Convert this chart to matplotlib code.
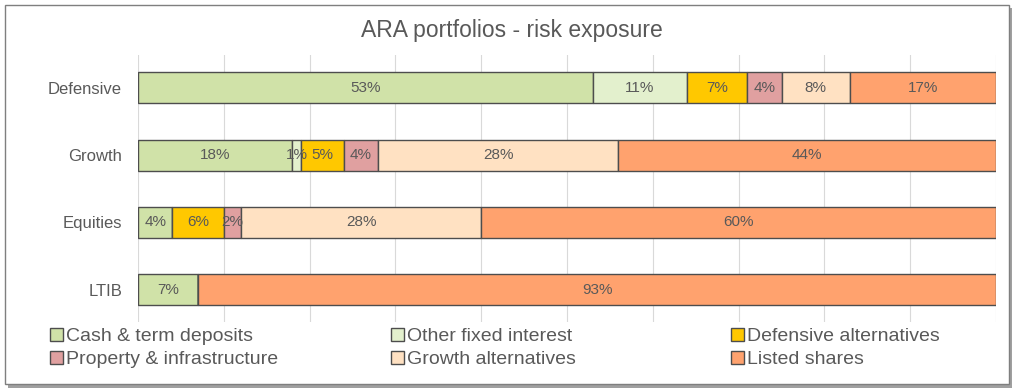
import numpy as np
import matplotlib.pyplot as plt
from matplotlib.patches import Rectangle

portfolios = ['Defensive', 'Growth', 'Equities', 'LTIB']
asset_classes = ['Cash & term deposits', 'Other fixed interest', 'Defensive alternatives',
                 'Property & infrastructure', 'Growth alternatives', 'Listed shares']
cash = [53, 18, 4, 7]
other_fixed = [11, 1, 0, 0]
def_alt = [7, 5, 6, 0]
property_infra = [4, 4, 2, 0]
growth_alt = [8, 28, 28, 0]
listed = [17, 44, 60, 93]
colours = ['#d0e2a8', '#e3f0cd', '#ffc800', '#e0a0a0', '#ffe1c2', '#ffa26e']


def main():
    plt.rcParams['font.family'] = ['Liberation Sans', 'DejaVu Sans']
    fig = plt.figure(figsize=(10.24, 3.9), dpi=100)
    ax = fig.add_axes([138 / 1024, 1 - 322 / 390, 858 / 1024, 267 / 390])

    series = [cash, other_fixed, def_alt, property_infra, growth_alt, listed]
    y = np.arange(len(portfolios))
    left = np.zeros(len(portfolios))
    handles = []
    for name, vals, col in zip(asset_classes, series, colours):
        vals = np.array(vals, dtype=float)
        bars = ax.barh(y, vals, left=left, height=0.46, color=col,
                       edgecolor='#4d4d4d', linewidth=1.0, label=name, zorder=3)
        handles.append(bars)
        for yi, (l, v) in enumerate(zip(left, vals)):
            if v > 0:
                ax.text(l + v / 2, yi, '%d%%' % v, ha='center', va='center',
                        fontsize=11, color='#595959', zorder=4)
        left += vals

    ax.set_xlim(0, 100)
    ax.set_ylim(3.48, -0.49)
    ax.set_xticks(np.arange(0, 101, 10))
    ax.set_xticklabels([])
    ax.set_yticks(y)
    ax.set_yticklabels(portfolios, fontsize=12, color='#595959')
    ax.tick_params(axis='both', length=0)
    ax.tick_params(axis='y', pad=11.5)
    ax.grid(True, axis='x', color='#d9d9d9', linewidth=0.8, zorder=0)
    for s in ax.spines.values():
        s.set_visible(False)

    fig.text(0.5, 1 - 30 / 390, 'ARA portfolios - risk exposure', ha='center', va='center',
             fontsize=16.5, color='#595959')

    # legend filled row by row: three columns placed where the original has them
    col_x = [50, 391, 731]
    for c, x in enumerate(col_x):
        idx = [c, c + 3]
        leg = fig.legend(handles=[handles[i] for i in idx],
                         labels=[asset_classes[i] for i in idx],
                         loc='upper left', bbox_to_anchor=(x / 1024, 1 - 328 / 390),
                         frameon=False, fontsize=14, handlelength=0.65, handleheight=0.65,
                         handletextpad=0.15, labelspacing=0.3, borderpad=0, borderaxespad=0)
        for t in leg.get_texts():
            t.set_color('#595959')

    # outer frame with shadow
    fig.patches.append(Rectangle((8 / 1024, 2 / 390), 1004 / 1024, 380 / 390,
                                 transform=fig.transFigure, facecolor='#a0a0a0',
                                 edgecolor='none', zorder=-2))
    fig.patches.append(Rectangle((5 / 1024, 6 / 390), 1004 / 1024, 379 / 390,
                                 transform=fig.transFigure, facecolor='white',
                                 edgecolor='#7f7f7f', linewidth=1, zorder=-1))

    fig.savefig('out.png', dpi=100)


if __name__ == "__main__":
    main()
